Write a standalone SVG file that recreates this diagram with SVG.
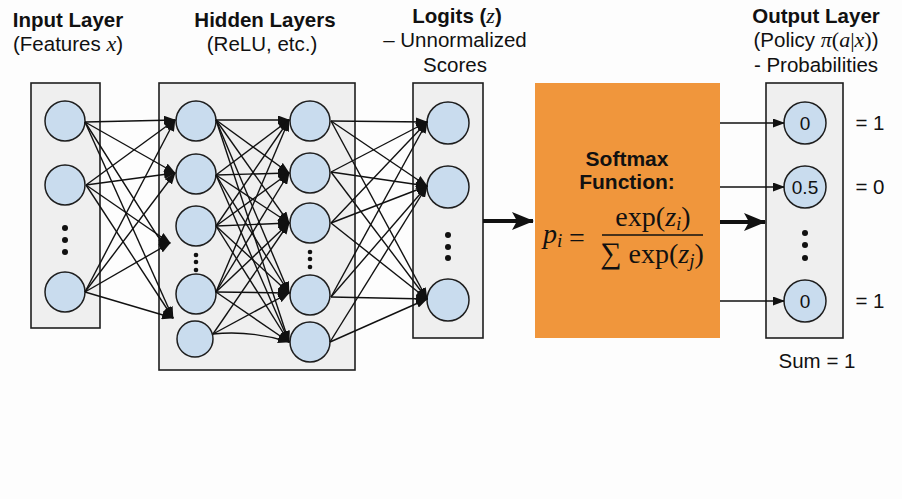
<svg xmlns="http://www.w3.org/2000/svg" width="902" height="499" viewBox="0 0 902 499">
<defs>
<style>
.box{fill:#efefef;stroke:#1e1e1e;stroke-width:1.6}
.node{fill:#c9dcee;stroke:#1e1e1e;stroke-width:1.5}
.dot{fill:#111}
.t{font-family:"Liberation Sans",Arial,sans-serif;fill:#111;text-anchor:middle}
.b{font-weight:bold;font-size:20.5px}
.r{font-size:20.5px}
.m{font-family:"Liberation Serif","DejaVu Serif",serif;font-style:italic}
.mu{font-family:"Liberation Serif","DejaVu Serif",serif;font-style:normal}
.f{font-family:"Liberation Serif","DejaVu Serif",serif;font-size:28px;fill:#111}
.c line,.c path{stroke:#111;stroke-width:1.4;fill:none;marker-end:url(#ah)}
.thick{stroke:#111;stroke-width:4;fill:none}
</style>
<marker id="ah" markerUnits="userSpaceOnUse" markerWidth="12" markerHeight="9" refX="11" refY="4.5" orient="auto">
<path d="M0,0 L12,4.5 L0,9 z" fill="#111"/>
</marker>
<marker id="ahb" markerUnits="userSpaceOnUse" markerWidth="22" markerHeight="18" refX="21" refY="9" orient="auto">
<path d="M0,0 L22,9 L0,18 L5,9 z" fill="#111"/>
</marker>
</defs>
<rect width="902" height="499" fill="#fdfdfd"/>

<g id="titles">
<text class="t b" x="68" y="27">Input Layer</text>
<text class="t r" x="68" y="51">(Features <tspan class="m" font-size="22">x</tspan>)</text>
<text class="t b" x="265" y="27">Hidden Layers</text>
<text class="t r" x="262" y="51">(ReLU, etc.)</text>
<text class="t b" x="457" y="23">Logits (<tspan class="m" font-weight="normal" font-size="22">z</tspan>)</text>
<text class="t r" x="455" y="47">– Unnormalized</text>
<text class="t r" x="455" y="72">Scores</text>
<text class="t b" x="816" y="23">Output Layer</text>
<text class="t r" x="816" y="47">(Policy <tspan class="m" font-size="22">π</tspan><tspan class="mu" font-size="22">(</tspan><tspan class="m" font-size="22">a</tspan><tspan class="mu" font-size="22">|</tspan><tspan class="m" font-size="22">x</tspan><tspan class="mu" font-size="22">)</tspan>)</text>
<text class="t r" x="816" y="72">- Probabilities</text>
</g>

<g id="input-layer">
<rect class="box" x="31" y="83" width="69" height="245"/>
<circle class="node" cx="65" cy="121" r="20"/>
<circle class="node" cx="65" cy="185" r="20"/>
<circle class="node" cx="65" cy="292" r="20"/>
<circle class="dot" cx="65" cy="228" r="3"/>
<circle class="dot" cx="65" cy="240" r="3"/>
<circle class="dot" cx="65" cy="252" r="3"/>
</g>

<g id="hidden-layers">
<rect class="box" x="159" y="83" width="196" height="287"/>
<circle class="node" cx="196" cy="121" r="20"/>
<circle class="node" cx="196" cy="174" r="20"/>
<circle class="node" cx="196" cy="226" r="20"/>
<circle class="node" cx="196" cy="294" r="20"/>
<circle class="node" cx="195" cy="339" r="18"/>
<circle class="dot" cx="196" cy="255" r="2.3"/>
<circle class="dot" cx="196" cy="262" r="2.3"/>
<circle class="dot" cx="196" cy="270" r="2.3"/>
<circle class="node" cx="310" cy="121" r="20"/>
<circle class="node" cx="310" cy="173" r="20"/>
<circle class="node" cx="310" cy="223" r="20"/>
<circle class="node" cx="310" cy="295" r="20"/>
<circle class="node" cx="310" cy="342" r="20"/>
<circle class="dot" cx="310" cy="252" r="2.3"/>
<circle class="dot" cx="310" cy="259" r="2.3"/>
<circle class="dot" cx="310" cy="267" r="2.3"/>
</g>

<g id="logits">
<rect class="box" x="413" y="83" width="70" height="255"/>
<circle class="node" cx="448" cy="123" r="21"/>
<circle class="node" cx="448" cy="187" r="21"/>
<circle class="node" cx="448" cy="300" r="21"/>
<circle class="dot" cx="448" cy="235" r="3"/>
<circle class="dot" cx="448" cy="247" r="3"/>
<circle class="dot" cx="448" cy="258" r="3"/>
</g>

<g id="softmax">
<rect x="535" y="83" width="185" height="255" fill="#f0963c"/>
<text class="t" font-weight="bold" font-size="21" x="627" y="166">Softmax</text>
<text class="t" font-weight="bold" font-size="21" x="627" y="189">Function:</text>
<text class="f" x="543" y="243"><tspan font-style="italic">p</tspan><tspan font-style="italic" font-size="19" dy="4">i</tspan></text>
<text class="f" x="569" y="247" font-size="32">=</text>
<line x1="602" y1="235" x2="703" y2="235" stroke="#111" stroke-width="1.6"/>
<text class="f" x="653" y="226" text-anchor="middle">exp(<tspan font-style="italic">z</tspan><tspan font-style="italic" font-size="19" dy="4">i</tspan><tspan dy="-4">)</tspan></text>
<text class="f" x="652" y="263" text-anchor="middle"><tspan font-size="30">∑</tspan> exp(<tspan font-style="italic">z</tspan><tspan font-style="italic" font-size="19" dy="4">j</tspan><tspan dy="-4">)</tspan></text>
</g>

<g id="output-layer">
<rect class="box" x="766" y="83" width="77" height="255"/>
<circle class="node" cx="805" cy="123" r="21"/>
<circle class="node" cx="805" cy="187" r="21"/>
<circle class="node" cx="805" cy="301" r="21"/>
<text class="t" font-size="19" x="805" y="130">0</text>
<text class="t" font-size="19" x="805" y="194">0.5</text>
<text class="t" font-size="19" x="805" y="308">0</text>
<circle class="dot" cx="805" cy="233" r="3"/>
<circle class="dot" cx="805" cy="245" r="3"/>
<circle class="dot" cx="805" cy="258" r="3"/>
<text class="t r" x="870" y="130">= 1</text>
<text class="t r" x="870" y="194">= 0</text>
<text class="t r" x="870" y="308">= 1</text>
<text class="t r" x="817" y="368">Sum = 1</text>
</g>

<g id="connectors" class="c">
<line x1="85" y1="122" x2="175" y2="120"/>
<line x1="85" y1="122" x2="175" y2="173"/>
<path d="M85,122 L155,232 Q160,242 170,243"/>
<line x1="85" y1="122" x2="173" y2="318"/>
<line x1="86" y1="185" x2="175" y2="120"/>
<line x1="86" y1="185" x2="175" y2="173"/>
<line x1="86" y1="185" x2="170" y2="243"/>
<line x1="86" y1="185" x2="173" y2="318"/>
<line x1="85" y1="292" x2="175" y2="120"/>
<line x1="85" y1="292" x2="175" y2="173"/>
<line x1="85" y1="292" x2="170" y2="243"/>
<line x1="85" y1="292" x2="173" y2="318"/>

<line x1="216" y1="120" x2="289" y2="120"/>
<line x1="216" y1="120" x2="289" y2="173"/>
<line x1="216" y1="120" x2="289" y2="223"/>
<line x1="216" y1="120" x2="289" y2="293"/>
<line x1="216" y1="120" x2="289" y2="342"/>
<line x1="216" y1="175" x2="289" y2="120"/>
<line x1="216" y1="175" x2="289" y2="173"/>
<line x1="216" y1="175" x2="289" y2="223"/>
<line x1="216" y1="175" x2="289" y2="293"/>
<line x1="216" y1="175" x2="289" y2="342"/>
<line x1="216" y1="226" x2="289" y2="120"/>
<line x1="216" y1="226" x2="289" y2="173"/>
<line x1="216" y1="226" x2="289" y2="223"/>
<line x1="216" y1="226" x2="289" y2="293"/>
<line x1="216" y1="226" x2="289" y2="342"/>
<line x1="216" y1="292" x2="289" y2="120"/>
<line x1="216" y1="292" x2="289" y2="173"/>
<line x1="216" y1="292" x2="289" y2="223"/>
<line x1="216" y1="292" x2="289" y2="293"/>
<line x1="216" y1="292" x2="289" y2="342"/>
<line x1="213" y1="334" x2="289" y2="223"/>
<line x1="213" y1="334" x2="289" y2="293"/>
<path d="M213,334 Q250,330 289,342"/>

<line x1="331" y1="121" x2="427" y2="122"/>
<line x1="331" y1="121" x2="427" y2="186"/>
<line x1="331" y1="121" x2="427" y2="299"/>
<line x1="331" y1="172" x2="427" y2="122"/>
<line x1="331" y1="172" x2="427" y2="186"/>
<line x1="331" y1="172" x2="427" y2="299"/>
<line x1="331" y1="223" x2="427" y2="122"/>
<line x1="331" y1="223" x2="427" y2="186"/>
<line x1="331" y1="223" x2="427" y2="299"/>
<line x1="331" y1="297" x2="427" y2="122"/>
<line x1="331" y1="297" x2="427" y2="186"/>
<line x1="331" y1="297" x2="427" y2="299"/>
<line x1="330" y1="342" x2="427" y2="186"/>
<line x1="330" y1="342" x2="427" y2="299"/>

<line x1="720" y1="123" x2="784" y2="123"/>
<line x1="720" y1="187" x2="784" y2="187"/>
<line x1="720" y1="301" x2="784" y2="301"/>
<line class="thick" x1="483" y1="221" x2="533" y2="221" style="stroke-width:4;marker-end:url(#ahb)"/>
<line class="thick" x1="720" y1="222" x2="765" y2="222" style="stroke-width:4;marker-end:url(#ahb)"/>
</g>
</svg>
